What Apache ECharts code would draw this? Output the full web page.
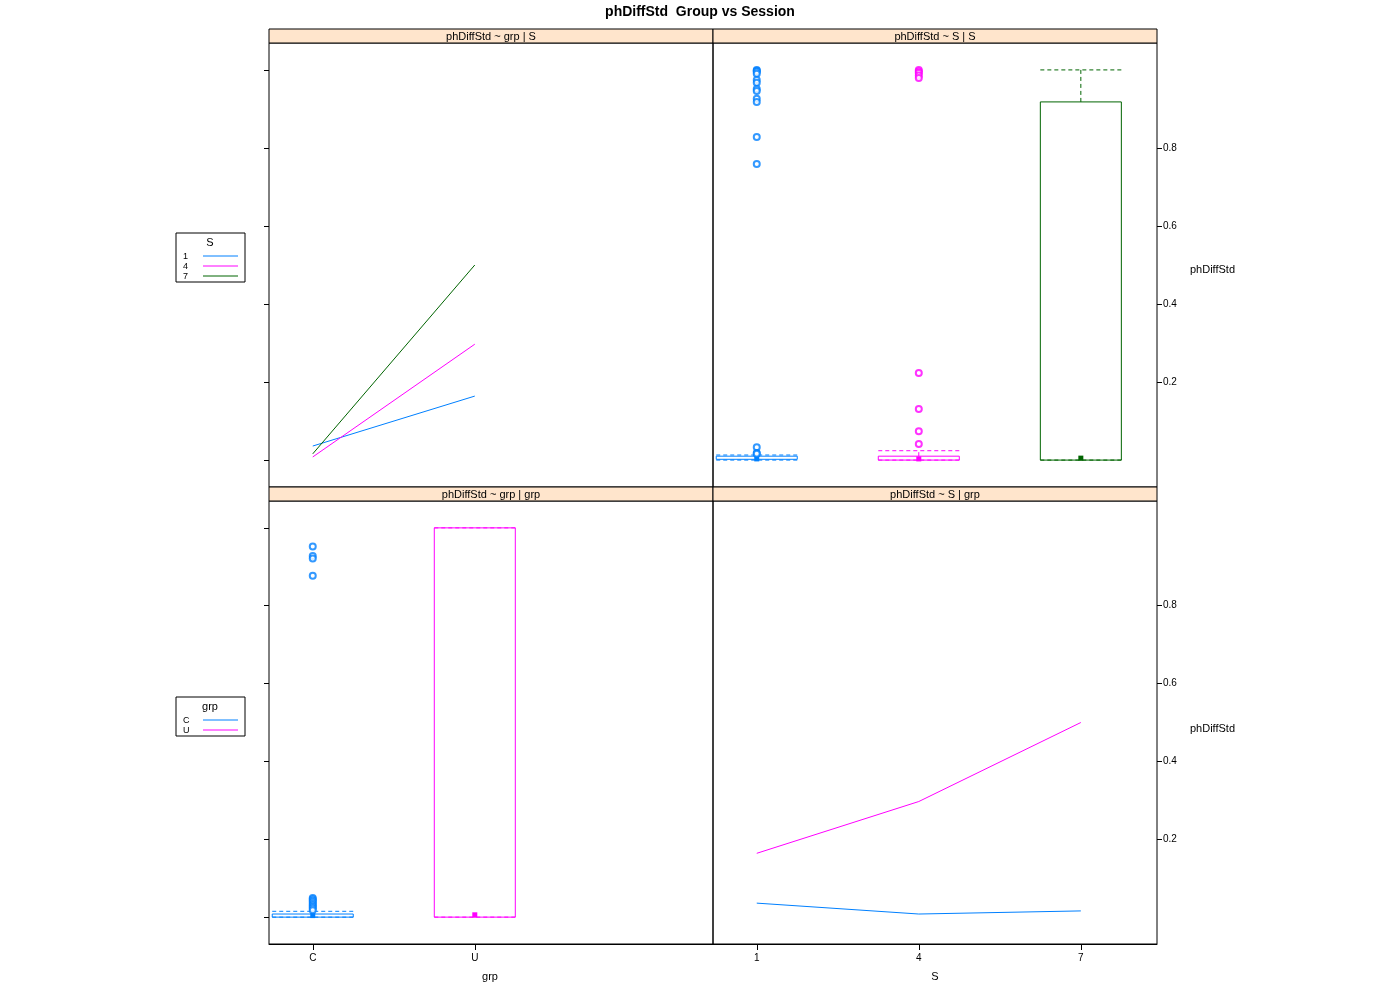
<!DOCTYPE html>
<html><head><meta charset="utf-8">
<script src="https://cdn.jsdelivr.net/npm/echarts@6/dist/echarts.min.js"></script>
<style>html,body{margin:0;padding:0;background:#fff}#c{width:1400px;height:1000px}</style>
</head><body><div id="c"></div>
<script>
// ---------- data ----------
const sessions = ['1', '4', '7'];
const groups = ['C', 'U'];
const yTicks = [0, 0.2, 0.4, 0.6, 0.8, 1.0];
const yLabels = [0.2, 0.4, 0.6, 0.8];
// mean phDiffStd per group x session
const meanC = [0.036, 0.008, 0.016];
const meanU = [0.164, 0.297, 0.500];
// box stats [low, q1, median, q3, high] by session
const boxS1 = [0, 0.002, 0.003, 0.010, 0.013];
const boxS4 = [0, 0.000, 0.003, 0.010, 0.024];
const boxS7 = [0, 0.000, 0.005, 0.918, 1.000];
const outS1 = [1.0, 0.998, 0.995, 0.99, 0.974, 0.967, 0.951, 0.946, 0.926, 0.918, 0.828, 0.759, 0.033, 0.018, 0.016];
const outS4 = [1.0, 0.996, 0.992, 0.986, 0.979, 0.223, 0.131, 0.074, 0.041];
const outS7 = [];
// box stats by group
const boxC = [0, 0.000, 0.004, 0.008, 0.015];
const boxU = [0, 0.000, 0.006, 1.000, 1.000];
const outC = [0.952, 0.928, 0.921, 0.877, 0.049, 0.046, 0.042, 0.038, 0.034, 0.030, 0.026, 0.022, 0.018];
const outU = [];
const colS = ['#0080ff', '#ff00ff', '#006400'];
const colG = ['#0080ff', '#ff00ff'];

// ---------- layout ----------
const X0 = 269, XM = 713, X1 = 1157;
const YT0 = 43, YT1 = 487, YB0 = 501, YB1 = 944;
const grids = [
  {left: X0, top: YT0, width: XM - X0, height: YT1 - YT0},
  {left: XM, top: YT0, width: X1 - XM, height: YT1 - YT0},
  {left: X0, top: YB0, width: XM - X0, height: YB1 - YB0},
  {left: XM, top: YB0, width: X1 - XM, height: YB1 - YB0}
].map(g => Object.assign(g, {show: true, borderColor: '#000', borderWidth: 1, backgroundColor: 'transparent'}));

const XMIN = 0.73, XMAX = 3.47, YMIN = -0.069, YMAX = 1.069;
const font = 'Liberation Sans, Arial, sans-serif';

function xAx(gi, cats) {
  const bottom = gi >= 2;
  const vals = cats ? cats.map((_, i) => i + 1) : [];
  return {
    type: 'value', gridIndex: gi, min: XMIN, max: XMAX, position: 'bottom',
    splitLine: {show: false}, axisLine: {show: bottom, onZero: false, lineStyle: {color: '#000', width: 1}},
    axisTick: {show: bottom, inside: false, customValues: vals, length: 6, lineStyle: {color: '#000', width: 1}},
    axisLabel: {show: bottom, customValues: vals, formatter: v => cats ? (cats[Math.round(v) - 1] || '') : '',
      fontSize: 10, color: '#000', fontFamily: font, margin: 9}
  };
}
function yAx(gi) {
  const right = gi % 2 === 1;
  return {
    type: 'value', gridIndex: gi, min: YMIN, max: YMAX, position: right ? 'right' : 'left',
    splitLine: {show: false}, axisLine: {show: false, onZero: false},
    axisTick: {show: true, customValues: right ? yLabels : yTicks, length: 5, lineStyle: {color: '#000'}},
    axisLabel: {show: right, customValues: yLabels, fontSize: 10, color: '#000', fontFamily: font, margin: 6,
      formatter: v => String(Math.round(v * 10) / 10)}
  };
}

function boxSeries(gi, boxes, cols) {
  return {
    type: 'custom', xAxisIndex: gi, yAxisIndex: gi, clip: true,
    data: boxes.map((b, i) => [i + 1].concat(b)),
    renderItem: function (params, api) {
      const c = cols[params.dataIndex];
      const x = api.value(0), lo = api.value(1), q1 = api.value(2), md = api.value(3), q3 = api.value(4), hi = api.value(5);
      const hw = 0.25;
      const pTL = api.coord([x - hw, q3]), pBR = api.coord([x + hw, q1]);
      const pc = api.coord([x, md]);
      const pHi = api.coord([x, hi]), pLo = api.coord([x, lo]);
      const pq3 = api.coord([x, q3]), pq1 = api.coord([x, q1]);
      const l = pTL[0], r = pBR[0];
      const dash = {stroke: c, lineWidth: 1, lineDash: [4, 3]};
      return {type: 'group', children: [
        {type: 'line', shape: {x1: pq3[0], y1: pq3[1], x2: pHi[0], y2: pHi[1]}, style: dash},
        {type: 'line', shape: {x1: pq1[0], y1: pq1[1], x2: pLo[0], y2: pLo[1]}, style: dash},
        {type: 'line', shape: {x1: l, y1: pHi[1], x2: r, y2: pHi[1]}, style: dash},
        {type: 'line', shape: {x1: l, y1: pLo[1], x2: r, y2: pLo[1]}, style: dash},
        {type: 'rect', shape: {x: l, y: pTL[1], width: r - l, height: Math.max(pBR[1] - pTL[1], 1)},
          style: {stroke: c, fill: 'none', lineWidth: 1}},
        {type: 'rect', shape: {x: pc[0] - 2.5, y: pc[1] - 2.5, width: 5, height: 5}, style: {fill: c}}
      ]};
    }
  };
}
function outSeries(gi, x, vals, c) {
  return {type: 'scatter', xAxisIndex: gi, yAxisIndex: gi, symbol: 'emptyCircle', symbolSize: 6,
    itemStyle: {color: c, borderColor: c, borderWidth: 1}, data: vals.map(v => [x, v]), z: 3, silent: true};
}

const series = [];
// top-left: lines by session across groups
sessions.forEach((s, i) => {
  series.push({type: 'line', xAxisIndex: 0, yAxisIndex: 0, symbol: 'none', lineStyle: {color: colS[i], width: 1},
    data: [[1, meanC[i]], [2, meanU[i]]]});
});
// top-right: box by session
series.push(boxSeries(1, [boxS1, boxS4, boxS7], colS));
series.push(outSeries(1, 1, outS1, colS[0]));
series.push(outSeries(1, 2, outS4, colS[1]));
series.push(outSeries(1, 3, outS7, colS[2]));
// bottom-left: box by group
series.push(boxSeries(2, [boxC, boxU], colG));
series.push(outSeries(2, 1, outC, colG[0]));
series.push(outSeries(2, 2, outU, colG[1]));
// bottom-right: lines by group across sessions
[meanC, meanU].forEach((m, gi) => {
  series.push({type: 'line', xAxisIndex: 3, yAxisIndex: 3, symbol: 'none', lineStyle: {color: colG[gi], width: 1},
    data: m.map((v, i) => [i + 1, v])});
});

// ---------- graphics: strips, titles, legends ----------
const graphic = [];
function strip(x, y, w, txt) {
  graphic.push({type: 'rect', shape: {x: x, y: y, width: w, height: 14}, style: {fill: '#ffe5cc', stroke: '#000', lineWidth: 1}, z: 10});
  graphic.push({type: 'text', x: x + w / 2, y: y + 8, style: {text: txt, font: '11px ' + font, fill: '#000', align: 'center', verticalAlign: 'middle'}, z: 11});
}
strip(X0, 29, XM - X0, 'phDiffStd ~ grp | S');
strip(XM, 29, X1 - XM, 'phDiffStd ~ S | S');
strip(X0, 487, XM - X0, 'phDiffStd ~ grp | grp');
strip(XM, 487, X1 - XM, 'phDiffStd ~ S | grp');
graphic.push({type: 'text', x: 700, y: 12, style: {text: 'phDiffStd  Group vs Session', font: 'bold 14px ' + font, fill: '#000', align: 'center', verticalAlign: 'middle'}});
graphic.push({type: 'text', x: 490, y: 977, style: {text: 'grp', font: '11px ' + font, fill: '#000', align: 'center', verticalAlign: 'middle'}});
graphic.push({type: 'text', x: 935, y: 977, style: {text: 'S', font: '11px ' + font, fill: '#000', align: 'center', verticalAlign: 'middle'}});
graphic.push({type: 'text', x: 1190, y: 270, style: {text: 'phDiffStd', font: '11px ' + font, fill: '#000', align: 'left', verticalAlign: 'middle'}});
graphic.push({type: 'text', x: 1190, y: 729, style: {text: 'phDiffStd', font: '11px ' + font, fill: '#000', align: 'left', verticalAlign: 'middle'}});
function legend(x, y, h, title, keys, cols) {
  graphic.push({type: 'rect', shape: {x: x, y: y, width: 69, height: h}, style: {fill: '#fff', stroke: '#000', lineWidth: 1}});
  graphic.push({type: 'text', x: x + 34, y: y + 10, style: {text: title, font: '11px ' + font, fill: '#000', align: 'center', verticalAlign: 'middle'}});
  keys.forEach((k, i) => {
    const yy = y + 23 + i * 10;
    graphic.push({type: 'text', x: x + 7, y: yy + 1, style: {text: k, font: '9px ' + font, fill: '#000', align: 'left', verticalAlign: 'middle'}});
    graphic.push({type: 'line', shape: {x1: x + 27, y1: yy, x2: x + 62, y2: yy}, style: {stroke: cols[i], lineWidth: 1}});
  });
}
legend(176, 233, 49, 'S', sessions, colS);
legend(176, 697, 39, 'grp', groups, colG);

const chart = echarts.init(document.getElementById('c'), null, {renderer: 'canvas'});
chart.setOption({
  animation: false,
  backgroundColor: '#fff',
  grid: grids,
  xAxis: [xAx(0, null), xAx(1, null), xAx(2, groups), xAx(3, sessions)],
  yAxis: [yAx(0), yAx(1), yAx(2), yAx(3)],
  series: series,
  graphic: graphic
});
</script>
</body></html>
